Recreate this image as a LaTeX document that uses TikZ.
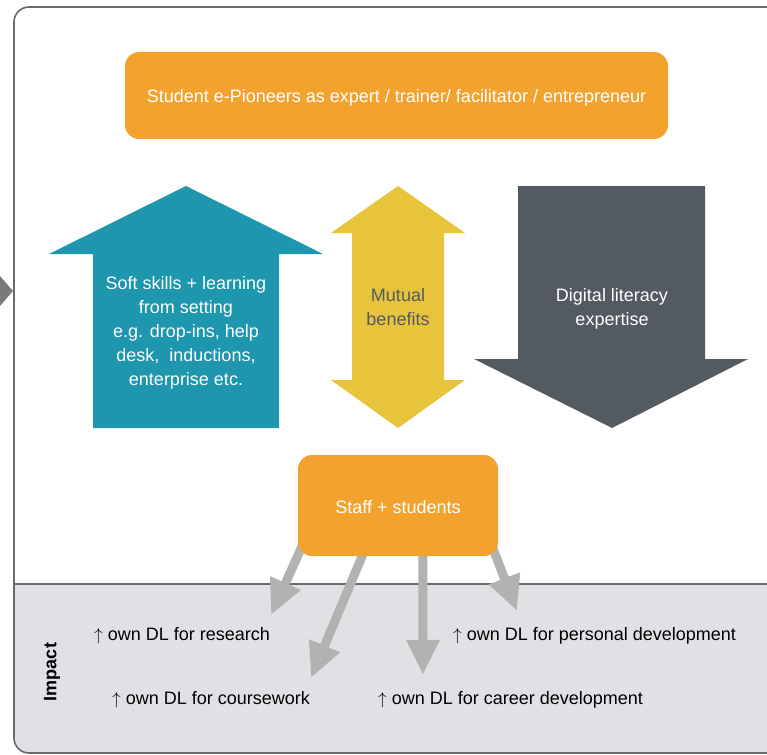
\documentclass[tikz,border=0pt]{standalone}
\usepackage{fontspec}
\setmainfont{Liberation Sans}
\usetikzlibrary{arrows.meta}

\definecolor{boxorange}{HTML}{F3A22E}
\definecolor{arrowteal}{HTML}{1D96AE}
\definecolor{mustard}{HTML}{E7C43B}
\definecolor{slate}{HTML}{545A62}
\definecolor{impactgray}{HTML}{E0E1E5}
\definecolor{linkgray}{HTML}{B3B2B0}
\definecolor{framegray}{HTML}{6A6A6A}
\definecolor{pointergray}{HTML}{7A7A7A}

\pgfdeclarelayer{backdrop}
\pgfdeclarelayer{links}
\pgfsetlayers{backdrop,links,main}

\begin{document}
\begin{tikzpicture}[x=1pt,y=-1pt,
  every node/.style={font=\fontsize{18}{24}\selectfont, inner sep=0pt},
  roundbox/.style={fill=boxorange, rounded corners=14pt, text=white, align=center},
  link/.style={draw=linkgray, line width=9pt, -{Triangle[length=35pt,width=31pt]}},
  impact/.style={anchor=base west, text=black}]

\useasboundingbox (0,0) rectangle (767,754);
\clip (0,0) rectangle (767,754);

% panel with the shaded impact band
\begin{pgfonlayer}{backdrop}
  \begin{scope}
    \clip[rounded corners=15pt] (14,7) rectangle (800,753);
    \fill[impactgray] (0,584) rectangle (800,760);
  \end{scope}
  \draw[framegray, line width=1.6pt, rounded corners=15pt] (14,7) rectangle (800,753);
  \draw[framegray, line width=1.2pt] (14,584) -- (800,584);
  \fill[pointergray] (0,276) -- (13,291) -- (0,306) -- cycle;
\end{pgfonlayer}

% top role box
\node[roundbox, minimum width=543pt, minimum height=87pt] (pioneers) at (396.5,95.5) {};
\node[text=white] (pioneerstext) at (396.5,97.5)
  {Student e-Pioneers as expert / trainer/ facilitator / entrepreneur};

% three block arrows
\fill[arrowteal] (186,186) -- (323,254) -- (279,254) -- (279,428) -- (93,428)
  -- (93,254) -- (49,254) -- cycle;
\node[text=white, align=center] (soft) at (186,333)
  {Soft skills + learning\\from setting\\e.g. drop-ins, help\\desk,~ inductions,\\enterprise etc.};

\fill[mustard] (398,186) -- (465,233) -- (444,233) -- (444,380) -- (465,380)
  -- (398,428) -- (331,380) -- (352,380) -- (352,233) -- (331,233) -- cycle;
\node[text=slate, align=center] (mutual) at (398,307) {Mutual\\benefits};

\fill[slate] (518,186) -- (705,186) -- (705,359) -- (748,359) -- (612,428)
  -- (474,359) -- (518,359) -- cycle;
\node[text=white, align=center] (digital) at (612,309) {Digital literacy\\expertise};

% staff box and its impact links
\node[roundbox, minimum width=200pt, minimum height=101pt] (staff) at (398,505.5) {};
\node[text=white] (stafftext) at (398,507) {Staff + students};

\node[impact] (research) at (94,640) {$\uparrow$ own DL for research};
\node[impact] (personal) at (453,640) {$\uparrow$ own DL for personal development};
\node[impact] (coursework) at (112,704) {$\uparrow$ own DL for coursework};
\node[impact] (career) at (378,704) {$\uparrow$ own DL for career development};
\node[rotate=90, font=\fontsize{18}{24}\selectfont\bfseries] (impactlabel) at (52,672) {Impact};

\coordinate (t1) at (271,615);
\coordinate (t2) at (311,678);
\coordinate (t3) at (423,675);
\coordinate (t4) at (517,611);

\begin{pgfonlayer}{links}
  \draw[link] ([shift={(7,-16)}]staff.south west) -- (t1);
  \draw[link] ([shift={(71,-16)}]staff.south west) -- (t2);
  \draw[link] ([shift={(125,-16)}]staff.south west) -- (t3);
  \draw[link] ([shift={(192,-16)}]staff.south west) -- (t4);
\end{pgfonlayer}
\end{tikzpicture}
\end{document}
